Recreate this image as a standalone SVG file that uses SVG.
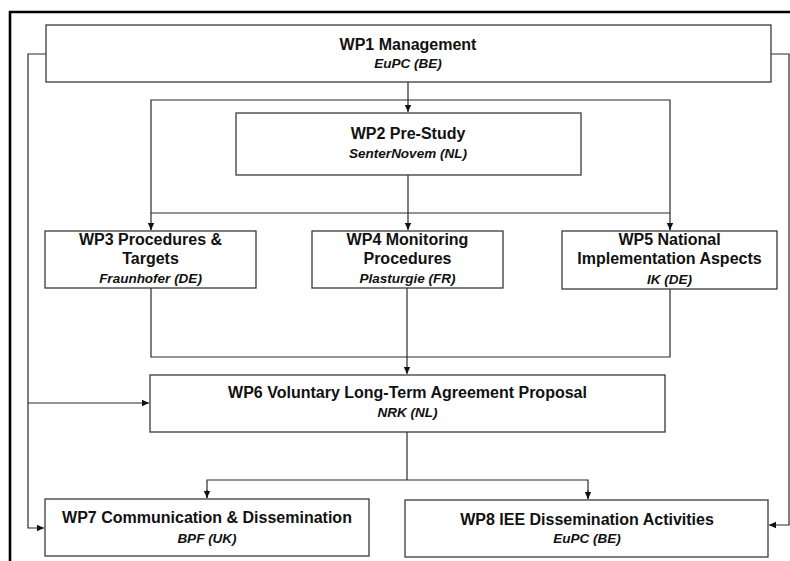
<svg xmlns="http://www.w3.org/2000/svg" width="790" height="561" viewBox="0 0 790 561">
<style>
.box{fill:#fff;stroke:#3a3a3a;stroke-width:1.3}
.ln{fill:none;stroke:#2a2a2a;stroke-width:1.2}
.t{font-family:"Liberation Sans",Arial,sans-serif;font-weight:bold;font-size:16px;fill:#111;text-anchor:middle}
.s{font-family:"Liberation Sans",Arial,sans-serif;font-weight:bold;font-style:italic;font-size:13.5px;fill:#111;text-anchor:middle}
.frame{fill:none;stroke:#000;stroke-width:2.6}
</style>
<defs>
<marker id="ah" markerUnits="userSpaceOnUse" markerWidth="8" markerHeight="8" refX="7" refY="4" orient="auto">
<path d="M0,0.8 L7,4 L0,7.2 Z" fill="#111"/>
</marker>
</defs>
<rect width="790" height="561" fill="#fff"/>
<path class="frame" d="M790,12 H10 V561"/>
<g id="connectors">
<path class="ln" d="M408,82 V112" marker-end="url(#ah)"/>
<path class="ln" d="M151,230 V100 H670 V230" />
<path class="ln" d="M151,223 V230" marker-end="url(#ah)"/>
<path class="ln" d="M670,223 V230" marker-end="url(#ah)"/>
<path class="ln" d="M408,175 V230" marker-end="url(#ah)"/>
<path class="ln" d="M151,213 H670"/>
<path class="ln" d="M151,288 V357 H670 V289"/>
<path class="ln" d="M407,288 V374" marker-end="url(#ah)"/>
<path class="ln" d="M46,54 H28 V528 H44" marker-end="url(#ah)"/>
<path class="ln" d="M28,403 H149" marker-end="url(#ah)"/>
<path class="ln" d="M771,54 H789 V525 H769" marker-end="url(#ah)"/>
<path class="ln" d="M407,432 V480"/>
<path class="ln" d="M207,498 V480 H588 V499"/>
<path class="ln" d="M207,490 V498" marker-end="url(#ah)"/>
<path class="ln" d="M588,490 V499" marker-end="url(#ah)"/>
</g>
<g id="wp1">
<rect class="box" x="46" y="25" width="725" height="57"/>
<text class="t" x="408" y="50">WP1 Management</text>
<text class="s" x="408" y="68">EuPC (BE)</text>
</g>
<g id="wp2">
<rect class="box" x="236" y="113" width="345" height="62"/>
<text class="t" x="408" y="139">WP2 Pre-Study</text>
<text class="s" x="408" y="158">SenterNovem (NL)</text>
</g>
<g id="wp3">
<rect class="box" x="45" y="231" width="211" height="57"/>
<text class="t" x="150.5" y="245">WP3 Procedures &amp;</text>
<text class="t" x="150.5" y="264">Targets</text>
<text class="s" x="150.5" y="283">Fraunhofer (DE)</text>
</g>
<g id="wp4">
<rect class="box" x="312" y="231" width="191" height="57"/>
<text class="t" x="407.5" y="245">WP4 Monitoring</text>
<text class="t" x="407.5" y="264">Procedures</text>
<text class="s" x="407.5" y="283">Plasturgie (FR)</text>
</g>
<g id="wp5">
<rect class="box" x="562" y="231" width="215" height="58"/>
<text class="t" x="669.5" y="245">WP5 National</text>
<text class="t" x="669.5" y="264">Implementation Aspects</text>
<text class="s" x="669.5" y="284">IK (DE)</text>
</g>
<g id="wp6">
<rect class="box" x="150" y="375" width="515" height="57"/>
<text class="t" x="407.5" y="398">WP6 Voluntary Long-Term Agreement Proposal</text>
<text class="s" x="407.5" y="417">NRK (NL)</text>
</g>
<g id="wp7">
<rect class="box" x="45" y="499" width="324" height="57"/>
<text class="t" x="207" y="523">WP7 Communication &amp; Dissemination</text>
<text class="s" x="207" y="543">BPF (UK)</text>
</g>
<g id="wp8">
<rect class="box" x="405" y="500" width="363" height="57"/>
<text class="t" x="587" y="525">WP8 IEE Dissemination Activities</text>
<text class="s" x="587" y="543">EuPC (BE)</text>
</g>
</svg>
